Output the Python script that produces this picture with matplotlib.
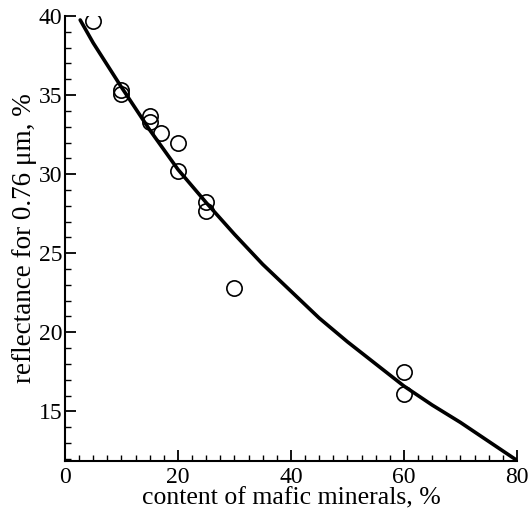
import numpy as np
import matplotlib.pyplot as plt
from matplotlib.ticker import MultipleLocator

plt.rcParams['font.family'] = ['Liberation Serif', 'DejaVu Serif']

# measured samples
mafic = [5, 10, 10, 15, 15, 17, 20, 20, 25, 25, 30, 60, 60]
refl = [39.7, 35.3, 35.1, 33.7, 33.3, 32.6, 32.0, 30.2, 28.25, 27.7, 22.8, 17.5, 16.1]

# fitted curve
fit_x = [2.7, 5, 10, 15, 20, 25, 30, 35, 40, 45, 50, 55, 60, 65, 70, 75, 80]
fit_y = [39.75, 38.3, 35.5, 32.8, 30.3, 28.2, 26.2, 24.3, 22.6, 20.9, 19.4, 18.0,
         16.6, 15.4, 14.3, 13.1, 11.9]

fig = plt.figure(figsize=(5.28, 5.17), dpi=100)
ax = fig.add_axes([0.123, 0.108, 0.856, 0.861])

ax.plot(fit_x, fit_y, 'k-', lw=2.6, solid_capstyle='round', zorder=2)
ax.plot(mafic, refl, 'o', mfc='none', mec='k', ms=11, mew=1.2, zorder=3)

ax.set_xlim(0, 80)
ax.set_ylim(11.85, 40)
ax.xaxis.set_major_locator(MultipleLocator(20))
ax.xaxis.set_minor_locator(MultipleLocator(2.5))
ax.yaxis.set_major_locator(MultipleLocator(5))
ax.yaxis.set_minor_locator(MultipleLocator(1))

ax.spines['top'].set_visible(False)
ax.spines['right'].set_visible(False)
for s in ['left', 'bottom']:
    ax.spines[s].set_linewidth(1.5)

ax.tick_params(which='major', direction='in', length=8, width=1.3, labelsize=17, pad=2)
ax.tick_params(which='minor', direction='in', length=4, width=1.0)
ax.tick_params(axis='x', which='major', pad=4)

ax.set_xlabel('content of mafic minerals, %', fontsize=18.5, labelpad=0)
ax.set_ylabel('reflectance for 0.76 \u03bcm, %', fontsize=19.5, labelpad=1)

fig.savefig('out.png', dpi=100)
